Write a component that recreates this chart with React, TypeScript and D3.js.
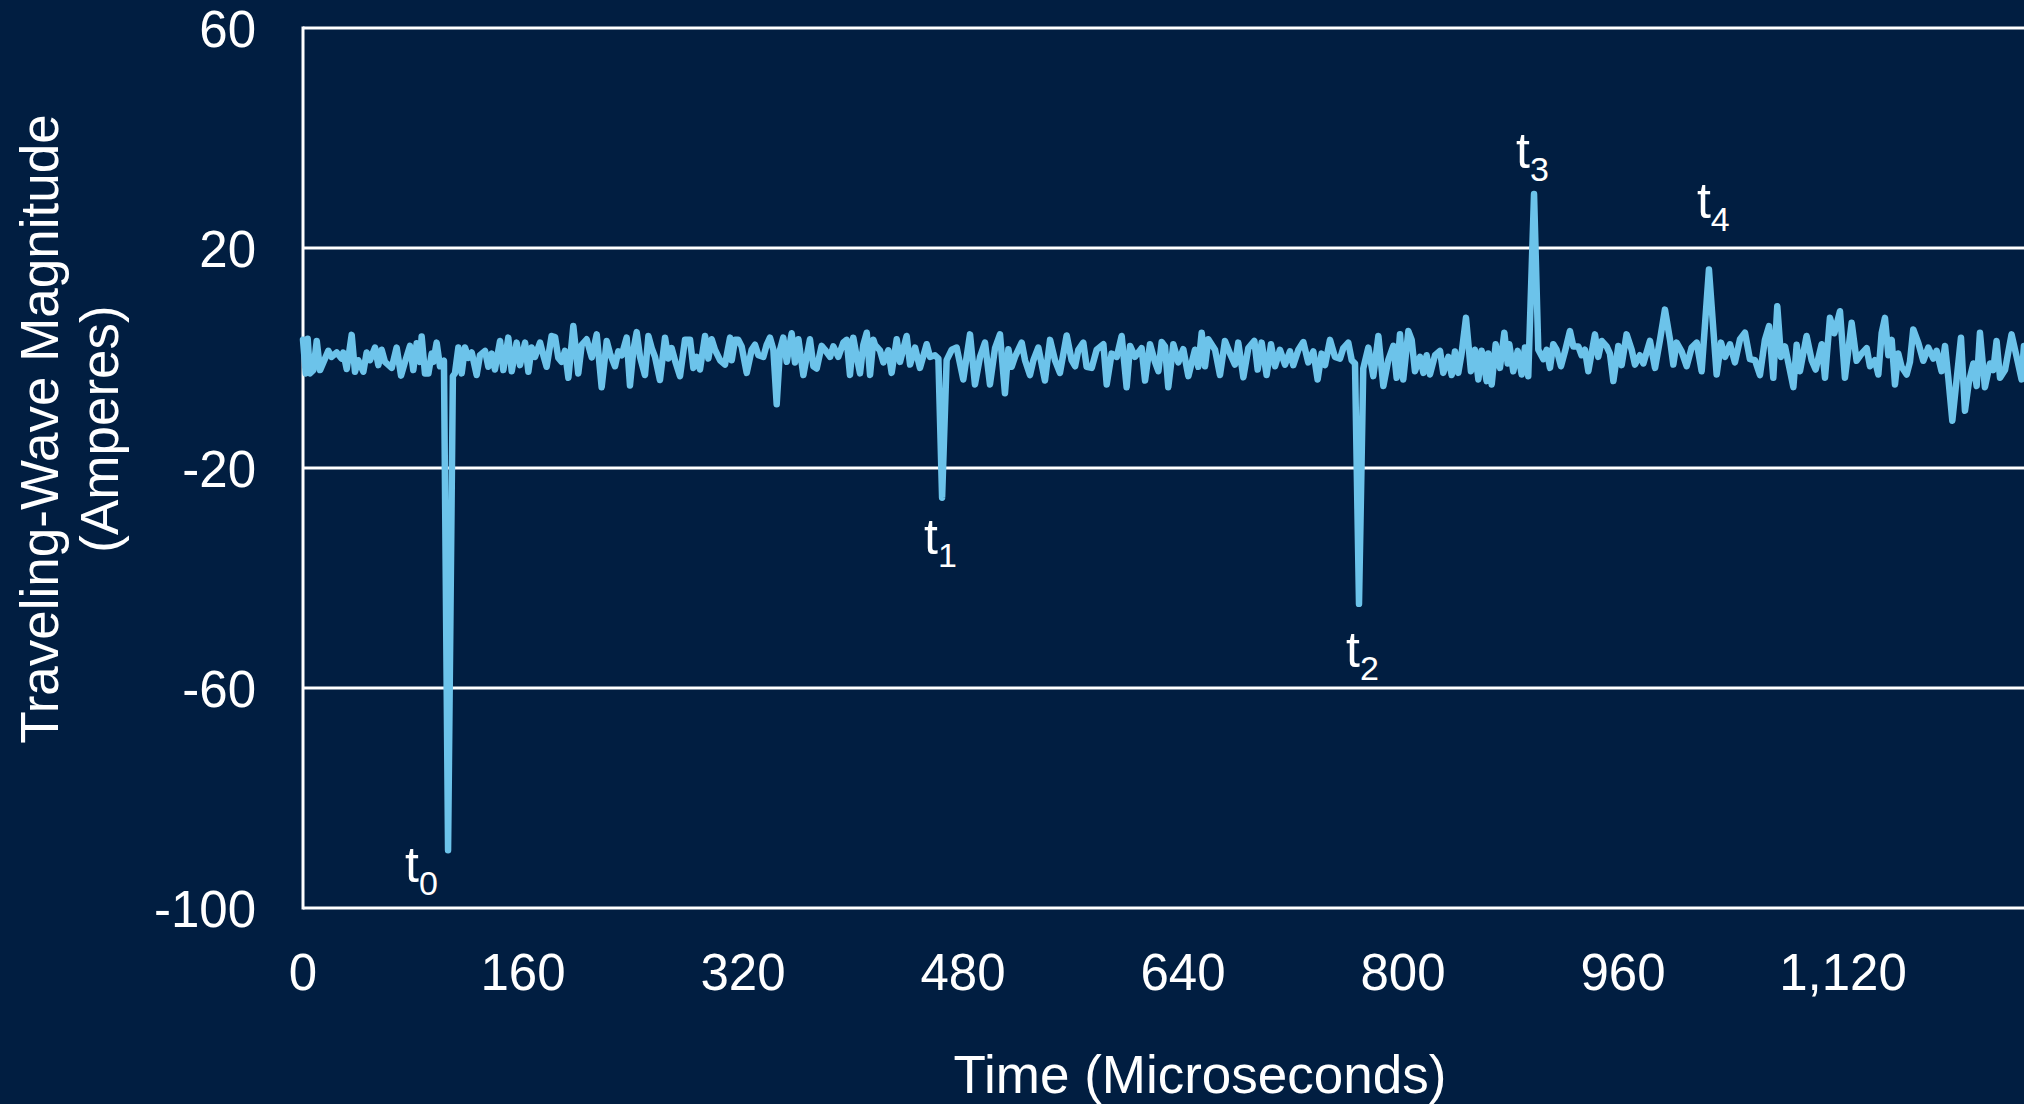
import React from 'react';
import * as d3 from 'd3';

// time axis (microseconds) and measured traveling-wave current (amperes)
const timeUs = [
  0, 2, 3.4, 5, 7.5, 10, 12.4, 18.4, 20.8, 24.5,
  28, 29.3, 31.8, 35.4, 37.8, 40.2, 43.9, 46.3, 48.7, 52.4,
  54.8, 57.2, 59.6, 64.5, 68.1, 71.3, 74.2, 77.8, 80.2, 82.7,
  85.1, 86.3, 88.7, 91.2, 93.6, 94.8, 97.2, 99.6, 102.5, 105.5,
  109, 110.5, 113, 115.4, 117.8, 120.2, 122.7, 126.3, 128.7, 132.4,
  134.8, 137.2, 139.6, 143.3, 145.7, 149.3, 151.8, 155.4, 157.8, 161.5,
  163.9, 166.3, 168.7, 172.4, 174.8, 177.2, 180.8, 183.3, 185.7, 188.1,
  190.5, 193, 196.6, 200.2, 202.7,
  206.3, 210, 213.6, 217.2, 220.9, 223.3, 226.9, 229.3, 231.8, 235.4,
  237.8, 240.3, 242.7, 245.1, 248.7, 251.2, 253.6, 256, 259.6, 263.3,
  265.7, 268.1, 270.6, 274.2, 277.8, 281.5, 283.9, 286.3, 288.7, 292.4,
  294.8, 297.2, 299.6, 303.3, 306.9, 310.6, 311.8, 314.2, 316.6, 319,
  322.7, 326.3, 328.7, 331.2, 334.8, 337.2, 339.6, 342.1, 344.5, 346.9,
  349.3, 351.8, 355.4, 357.8, 360.3, 363.9, 366.3, 368.7, 371.2, 373.6,
  377.2, 379.6, 383.3, 385.7, 389.3, 393, 395.4, 397.8, 400.2, 402.7,
  405.1, 407.5, 410, 412.4, 414.8,
  416, 419.6, 422.1, 425.7, 428.1, 431.8, 434.2, 439, 441.5, 445.1,
  448.7, 453.6, 456, 459.6, 462.1, 464.8, 468.1, 471.8, 475.4, 480.2,
  485.1, 488.7, 492.4, 496, 499.6, 503.3, 506.9, 510.5, 513, 515.4,
  517.8, 522.7, 525.1, 528.7, 531.2, 534.8, 539.6, 543.3, 546.9, 550.5,
  555.4, 559, 561.5, 563.9, 567.5, 569.9, 573.6, 577.2, 582.1, 584.5,
  588.1, 591.8, 595.4, 599, 601.5, 605.1, 609.9, 612.4, 616, 619.6,
  622.1, 624.5,
  626.9, 629.3, 633, 636.6, 640.2, 643.9, 648.7, 651.1, 653.6, 656,
  658.4, 663.3, 666.9, 670.5, 674.2, 677.8, 680.2, 683.9, 687.5, 691.9,
  694.3, 697.2, 700.8, 704, 706.9, 710.5, 714.2, 717.8, 720.2, 723.9,
  727.5, 731.1, 734.8, 737.9, 740.8, 743.3, 746.9, 750.5, 754.2, 756.6,
  760.2, 762.7, 765.1, 768, 771.1, 774.8, 778.4, 782.1, 785.7, 789.3,
  793, 795.4, 797.8, 800.2, 803.9, 806.3, 808.7, 812.4, 814.8, 817.2,
  819.6, 823.3, 826.9, 829.3, 833, 835.4,
  837.8, 840.2, 842.6, 845.8, 849.4, 852.3, 854.8, 857.2, 860.8, 862,
  864.5, 867.4, 870.5, 873.7, 876.1, 877.3, 880.2, 883.4, 886.3, 888.7,
  891.1, 895.3, 898.4, 902.1, 904.5, 906.9, 909.3, 911.7, 914.9, 917.8,
  921.4, 923.9, 927.5, 929.9, 932.3, 934.8, 939.6, 942, 944.5, 948.1,
  950.5, 953, 956.6, 959, 962.6, 966.3, 968.7, 972.3, 974.8, 979.6,
  983.3, 986.9, 990.5, 994.2, 996.6, 999, 1002.6, 1006.3, 1009.9, 1013.6,
  1017.2, 1022.5, 1028.1, 1031.3, 1034.2, 1037.8, 1041.4, 1045.1,
  1048.7, 1052.3, 1056, 1059.6, 1063.2, 1066.2, 1069.3, 1072.2, 1074.9, 1077.8,
  1083.9, 1086.3, 1088.7, 1093.5, 1097.2, 1100.1, 1104.5, 1106.9, 1110.5, 1113.7,
  1117.8, 1121.4, 1126.3, 1129.9, 1133.5, 1137.2, 1139.6, 1143.2, 1145.7, 1148.1,
  1150.5, 1153, 1155.4, 1157.8, 1160.2, 1162.6, 1166.3, 1168.7, 1171.1, 1174.8,
  1178.4, 1182, 1185.7, 1188.1, 1191.7, 1194.2, 1196.6, 1199.5, 1202.6, 1205.8,
  1208.7, 1211.6, 1214.8, 1217.2, 1219.6, 1223.2, 1226.9, 1229.3, 1231.7, 1234.2,
  1237.8, 1242.6, 1246.3, 1249.9, 1251.6, 1256,
];

const amps = [
  3.3, -2.8, 3.5, -2.8, -2.2, 3.1, -2.2, 1.3, 0.2, 1.0,
  -0.1, 1.0, -2.0, 4.2, -2.5, -0.4, -2.5, 1.0, -0.4, 1.9,
  -1.3, 1.5, -0.7, -1.8, 1.9, -3.2, -0.7, 2.2, -2.2, 2.7,
  -0.7, 3.9, -2.8, -2.8, 0.8, -0.7, 2.8, -1.5, -0.5, -89.5,
  -3.3, -2.8, 1.9, -2.8, 1.9, 0, 1.0, -3.1, 0.5, 1.3,
  -1.6, 0.8, -2.1, 3.1, -2.2, 3.7, -2.4, 2.8, -1.3, 2.8,
  -2.5, 1.9, 0.2, 2.8, 0.5, -1.6, 4.0, 3.8, 0, -0.7,
  1.3, -3.6, 5.8, -2.8, 2.4,
  3.4, 0.1, 4.3, -5.3, 3.1, 0.8, -1.5, 1.2, 0.5, 3.7,
  -5.0, 1.5, 4.7, 0.2, -3.1, 4.0, 1.8, 0.2, -4.0, 3.7,
  -0.1, 1.8, -0.5, -3.3, 3.3, 3.3, -1.8, 0.2, -2.1, 4.0,
  -0.1, 3.4, 1.5, -0.4, -1.2, 3.7, -0.4, 3.3, 3.3, 2.1,
  -2.7, 1.5, 2.4, 0.5, 0.2, 2.4, 3.7, 1.5, -8.4, 1.5,
  3.7, -0.7, 4.5, -0.8, 3.4, -3.1, 0.2, 3.4, -1.5, -1.9,
  2.2, 1.5, 0.2, 2.1, 0.2, 2.8, 3.3, -3.1, 3.7, 0.2,
  -2.8, 2.4, 4.6, -3.1, 3.3,
  2.4, 1.4, -0.8, 1.4, -2.7, 3.4, -0.7, 4.0, -1.2, 1.9,
  -1.8, 2.5, 0.2, 0.5, -0.1, -25.4, -0.4, 1.5, 1.9, -3.9,
  4.3, -4.8, 0.2, 2.8, -4.8, 1.8, 4.3, -6.4, 1.6, -1.6,
  0.2, 2.8, -0.4, -3.1, -0.4, 1.9, -4.1, 3.3, -0.4, -2.7,
  4.1, -0.4, -1.5, 1.5, 2.8, -1.6, -1.8, 1.5, 2.5, -4.8,
  0.8, 0.2, 4.0, -5.3, 2.2, 0.2, 1.8, -4.1, 2.5, -0.7,
  -2.4, 2.9,
  2.1, -5.3, 2.5, -0.8, 1.6, -3.3, 1.5, -1.6, 4.6, -1.5,
  3.4, 1.5, -3.1, 3.1, 0.8, -1.2, 2.8, -3.5, 1.8, 3.1,
  -2.1, 2.8, -3.1, 2.5, -1.5, 1.5, -1.2, 1.2, -1.3, 1.5,
  2.9, -0.8, 1.2, -3.9, 0.8, -1.3, 3.3, 0.2, -0.1, 1.8,
  2.8, -0.4, -1.0, -44.7, -1.9, 1.9, -3.3, 4.0, -5.1, -0.4,
  2.2, -3.6, 4.3, -3.9, 4.9, 3.3, -2.4, 0.2, -2.7, 0.5,
  -3.0, 0.5, 1.3, -2.7, 0.2, -3.1,
  1.2, -2.7, 0.8, 7.3, -2.4, 1.5, -3.9, 1.3, -4.2, 0.8,
  -4.8, 2.5, -1.8, 4.6, -1.0, 2.5, -2.4, 1.3, -3.0, 1.9,
  -3.3, 29.8, 1.5, -0.2, 1.5, -1.8, 2.5, 1.5, -1.5, 1.2,
  4.9, 2.1, 2.1, 0.5, 1.5, -2.4, 4.3, 0.2, 3.1, 2.1,
  0.8, -4.2, 2.2, -1.3, 4.3, 1.5, -1.2, 0.5, -1.0, 3.1,
  -1.8, 3.3, 8.8, 3.3, -1.2, 2.8, 1.2, -1.5, 1.9, 2.8,
  -2.4, 16.1, -3.0, 2.8, 0.2, 2.5, -0.8, 3.4,
  4.6, -0.2, -0.4, -3.1, 3.3, 5.8, -3.6, 9.4, 0.2, 2.1,
  -5.3, 2.4, -2.4, 4.0, -0.4, -2.1, 2.5, -3.6, 7.3, 4.5,
  8.5, -3.6, 6.4, -0.5, 0.8, 1.8, -1.5, -0.4, -3.0, 4.5,
  7.3, 0.5, 3.3, -4.8, 0.8, -1.6, -3.0, -0.7, 5.2, 2.7,
  -0.5, 1.9, -0.1, 1.3, -2.4, 2.2, -3.6, -11.4, -4.0, 3.7,
  -9.6, -4.3, -1.0, -5.1, 4.6, -5.3, -1.0, -2.2, 3.1, -3.6,
  -2.2, 4.3, 0.2, -3.9, 2.2, -1.0,
];

const yTicks = [60, 20, -20, -60, -100];
const xTicks = [0, 160, 320, 480, 640, 800, 960, 1120];

// arrival times of the wavefronts that get a t-label
const arrivalTimes = [105.5, 464.8, 768, 895.3, 1022.5];
const arrivalSubs = ['0', '1', '2', '3', '4'];

const W = 2024;
const H = 1104;
const BG = '#011E41';
const LINE = '#6CC3EA';
const FONT = '"Liberation Sans", Arial, sans-serif';

const App = () => {
  const left = 303;
  const top = 28;
  const bottom = 908;

  const x = d3.scaleLinear().domain([0, 1280]).range([left, left + 1280 * 1.375]);
  const y = d3.scaleLinear().domain([-100, 60]).range([bottom, top]);

  const points = timeUs.map((t, i) => [t, amps[i]] as [number, number]);
  const path = d3.line<[number, number]>()
    .x(d => x(d[0]))
    .y(d => y(d[1]))(points);

  const fmt = d3.format(',');

  // label placement relative to each spike tip (px)
  const labelOffsets = [[-43, 32], [-18, 56], [-13, 63], [-18, -26], [-12, -51]];

  return (
    <svg width={W} height={H} style={{ position: 'absolute', left: 0, top: 0, display: 'block' }}>
      <rect x={0} y={0} width={W} height={H} fill={BG} />

      {/* gridlines */}
      {yTicks.map(v => (
        <line key={v} x1={left} x2={W} y1={y(v)} y2={y(v)} stroke="#fff" strokeWidth={3} />
      ))}
      <line x1={left} x2={left} y1={top - 1.5} y2={bottom + 1.5} stroke="#fff" strokeWidth={3} />

      {/* y tick labels */}
      {yTicks.map(v => (
        <text key={v} x={256} y={y(v) + 19} textAnchor="end" fill="#fff"
          fontFamily={FONT} fontSize={51}>{v}</text>
      ))}

      {/* x tick labels */}
      {xTicks.map(v => (
        <text key={v} x={x(v)} y={990} textAnchor="middle" fill="#fff"
          fontFamily={FONT} fontSize={51}>{fmt(v)}</text>
      ))}

      {/* trace */}
      <path d={path || ''} fill="none" stroke={LINE} strokeWidth={6.5}
        strokeLinejoin="round" strokeLinecap="round" />

      {/* wavefront labels */}
      {arrivalTimes.map((t, i) => {
        const idx = timeUs.indexOf(t);
        const px = x(t) + labelOffsets[i][0];
        const py = y(amps[idx]) + labelOffsets[i][1];
        return (
          <text key={t} x={px} y={py} fill="#fff" fontFamily={FONT} fontSize={50}>
            t<tspan fontSize={34} dy={13}>{arrivalSubs[i]}</tspan>
          </text>
        );
      })}

      {/* axis titles */}
      <text x={1200} y={1093} textAnchor="middle" fill="#fff" fontFamily={FONT} fontSize={53}>
        Time (Microseconds)
      </text>
      <text transform="translate(58,429) rotate(-90)" textAnchor="middle" fill="#fff"
        fontFamily={FONT} fontSize={53}>Traveling-Wave Magnitude</text>
      <text transform="translate(118,429) rotate(-90)" textAnchor="middle" fill="#fff"
        fontFamily={FONT} fontSize={53}>(Amperes)</text>
    </svg>
  );
};

export default App;
